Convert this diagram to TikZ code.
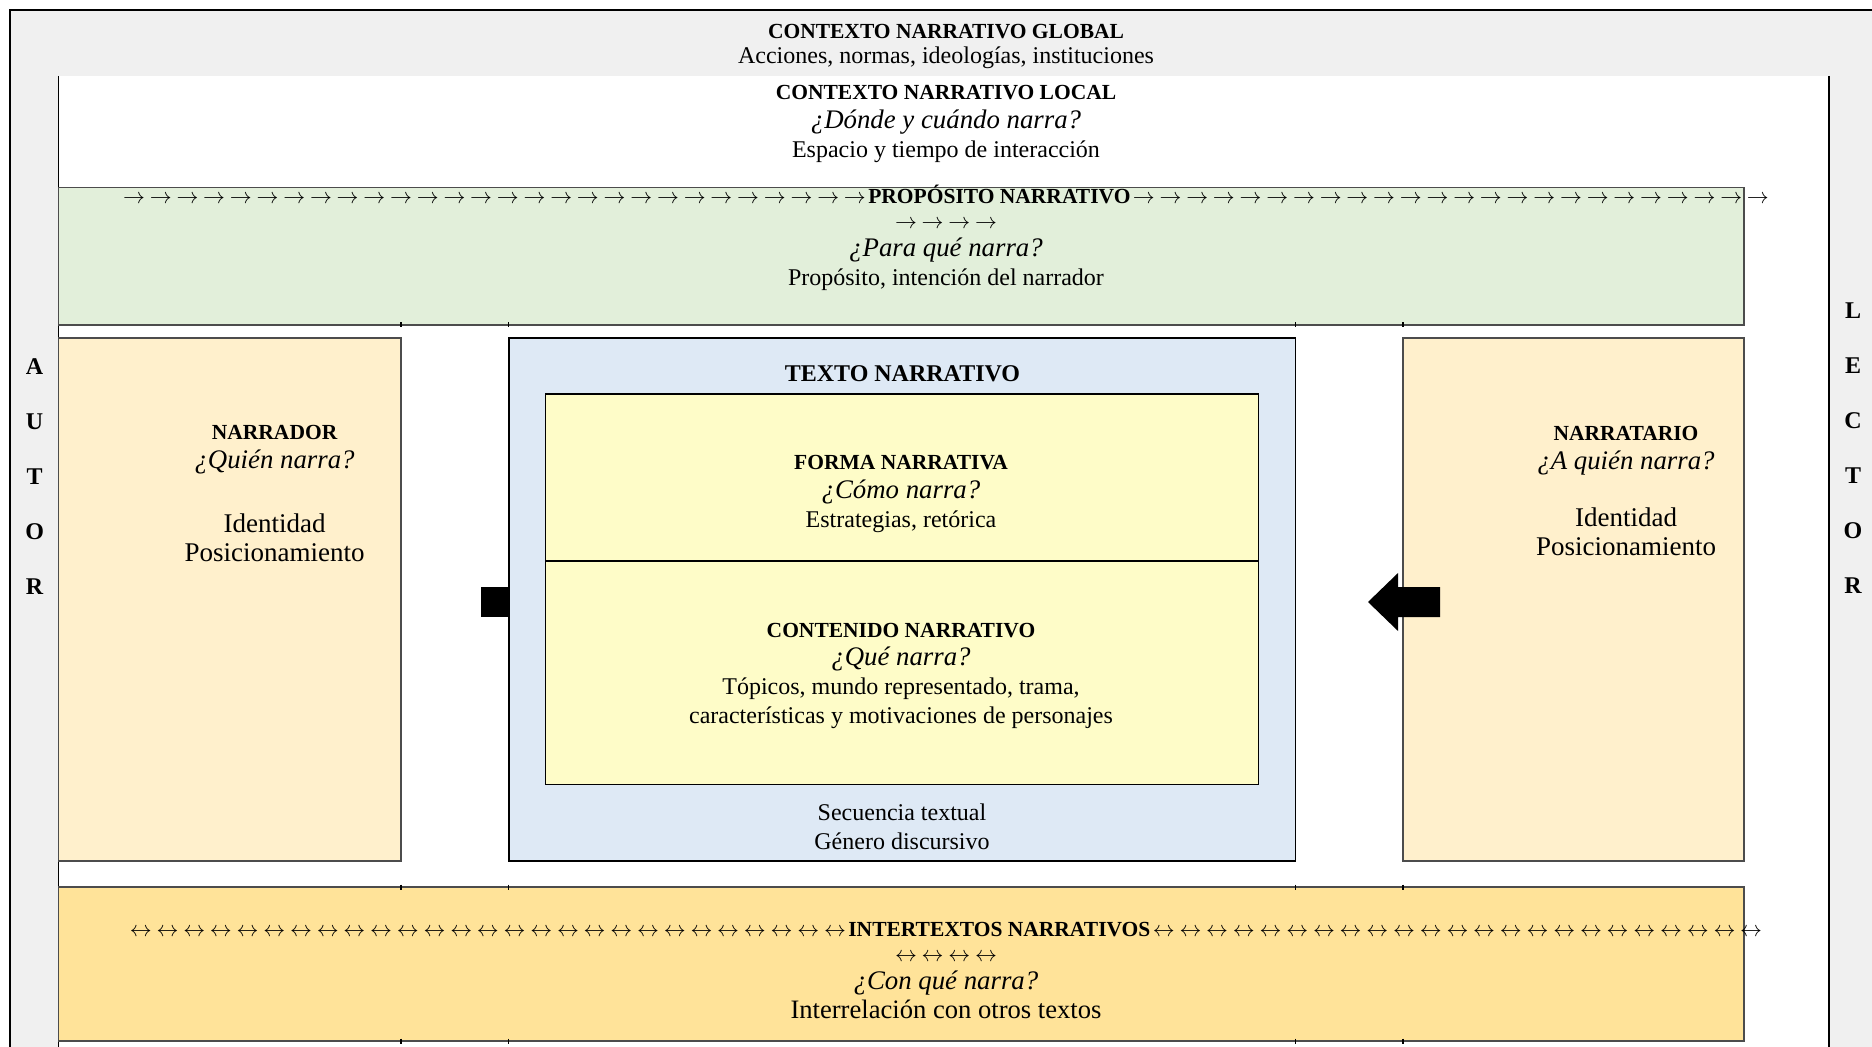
\documentclass[tikz,border=0pt]{standalone}
\usepackage{fontspec}
\setmainfont{Liberation Serif}
\definecolor{gris}{HTML}{F0F0F0}
\definecolor{verde}{HTML}{E2EFDA}
\definecolor{crema}{HTML}{FFF0CC}
\definecolor{celeste}{HTML}{DEE9F5}
\definecolor{amarillo}{HTML}{FEFCC8}
\definecolor{oro}{HTML}{FFE399}
\newcommand\flechas[2]{\foreach\k in {1,...,#1}{\makebox[13.35pt]{\fontsize{10.5}{12}\selectfont$#2$}}}
\newcommand\tit[1]{{\fontsize{10.75}{13}\selectfont\bfseries #1}}
\newcommand\preg[1]{{\fontsize{13.4}{14}\selectfont\itshape #1}}
\tikzset{
  caja/.style={draw=black!70, line width=0.6pt},
  bloque/.style={align=center, inner sep=0pt, font=\fontsize{12}{14.3}\selectfont},
  grande/.style={align=center, inner sep=0pt, font=\fontsize{13.5}{14.4}\selectfont},
  letra/.style={inner sep=0pt, font=\fontsize{12}{14}\selectfont\bfseries},
}
\begin{document}
\begin{tikzpicture}[x=0.5pt,y=-0.5pt]
\useasboundingbox (0,0) rectangle (1872,1047);
% marco general
\fill[gris] (10,10) rectangle (1872,1047);
\fill[white] (58.5,76) rectangle (1829,1047);
\draw[line width=1.2pt] (1872,10) -- (10,10) -- (10,1047);
\draw[line width=0.9pt] (58.5,76) -- (58.5,1047);
\draw[line width=0.9pt] (1829,76) -- (1829,1047);
% franjas y cajas
\filldraw[caja, fill=verde] (58.5,187.5) rectangle (1744,325);
\filldraw[caja, fill=crema] (58.5,338) rectangle (401,861);
\filldraw[caja, fill=crema] (1403,338) rectangle (1744,861);
\filldraw[draw=black, line width=0.9pt, fill=celeste] (508.6,338) rectangle (1295.5,861);
\filldraw[draw=black, line width=0.8pt, fill=amarillo] (545.6,394) rectangle (1258.5,784.5);
\draw[line width=0.8pt] (545.6,561) -- (1258.5,561);
\filldraw[caja, fill=oro] (58.5,887) rectangle (1744,1041);
\foreach \x in {401,508.6,1295.5,1403}
  \foreach \y in {325,887,1041}
    \draw[line width=0.6pt] (\x,\y-2.5) -- (\x,\y+2.5);
% flechas
\fill (480.7,587) rectangle (508.6,617);
\fill (1440,587) -- (1398,587) -- (1398,573) -- (1368,602) -- (1398,631) -- (1398,617) -- (1440,617) -- cycle;
% textos
\node[bloque] (global) at (946,46.6) {\tit{CONTEXTO NARRATIVO GLOBAL}\\[-1.5pt] Acciones, normas, ideologías, instituciones};
\node[bloque] (local) at (946,124) {\tit{CONTEXTO NARRATIVO LOCAL}\\ \preg{¿Dónde y cuándo narra?}\\ Espacio y tiempo de interacción};
\node[bloque] (proposito) at (946,238) {\flechas{28}{\rightarrow}\tit{PROPÓSITO NARRATIVO}\flechas{24}{\rightarrow}\\[-2pt] \flechas{4}{\rightarrow}\\ \preg{¿Para qué narra?}\\ Propósito, intención del narrador};
\node[bloque] (narrador) at (274.6,449.6) {\tit{NARRADOR}\\ \preg{¿Quién narra?}};
\node[grande] (narradorId) at (274.6,537.5) {Identidad\\ Posicionamiento};
\node[bloque] (texto) at (902.5,373.4) {\fontsize{12}{14}\selectfont\bfseries TEXTO NARRATIVO};
\node[bloque] (forma) at (901,494) {\tit{FORMA NARRATIVA}\\ \preg{¿Cómo narra?}\\ Estrategias, retórica};
\node[bloque] (contenido) at (901,675.6) {\tit{CONTENIDO NARRATIVO}\\ \preg{¿Qué narra?}\\ Tópicos, mundo representado, trama,\\ características y motivaciones de personajes};
\node[bloque] (secuencia) at (902,827) {Secuencia textual\\ Género discursivo};
\node[bloque] (narratario) at (1626,450.8) {\tit{NARRATARIO}\\ \preg{¿A quién narra?}};
\node[grande] (narratarioId) at (1626,531.5) {Identidad\\ Posicionamiento};
\node[bloque] (intertextos) at (946,970.5) {\flechas{27}{\leftrightarrow}\tit{INTERTEXTOS NARRATIVOS}\flechas{23}{\leftrightarrow}\\[-2pt] \flechas{4}{\leftrightarrow}\\ \preg{¿Con qué narra?}\\ {\fontsize{13.3}{14}\selectfont Interrelación con otros textos}};
\foreach \l [count=\i from 0] in {A,U,T,O,R}
  \node[letra] (autor\i) at (34.6,366.5+55*\i) {\l};
\foreach \l [count=\i from 0] in {L,E,C,T,O,R}
  \node[letra] (lector\i) at (1853,310.4+55*\i) {\l};
\end{tikzpicture}
\end{document}
